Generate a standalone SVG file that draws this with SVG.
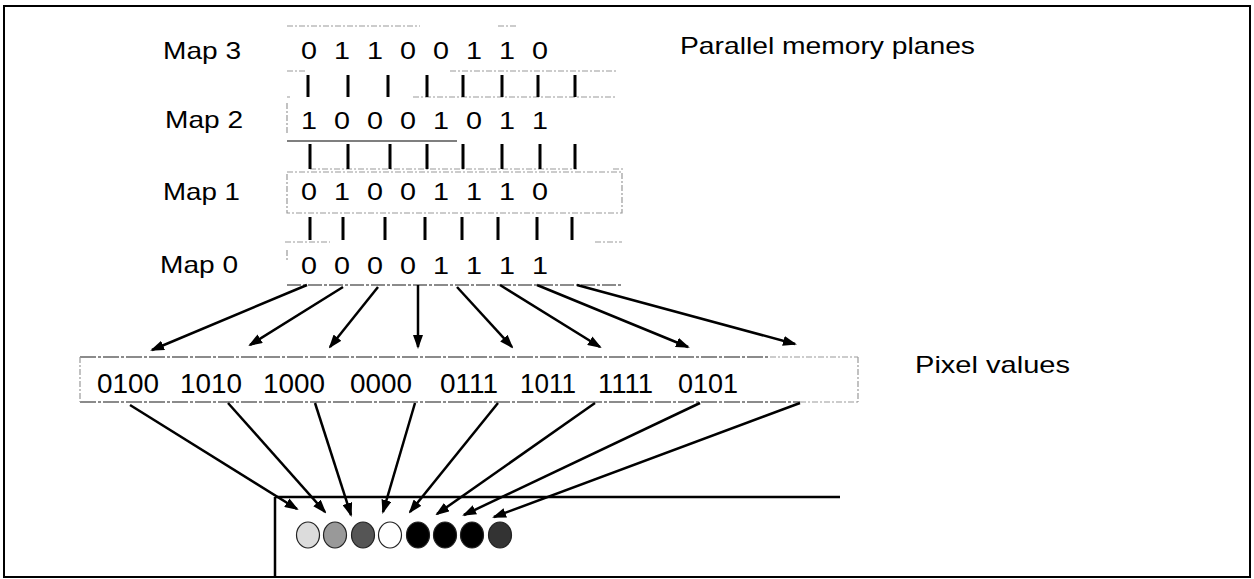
<svg xmlns="http://www.w3.org/2000/svg" width="1254" height="579" viewBox="0 0 1254 579">
<style>
.t{font-family:"Liberation Sans",Arial,sans-serif;font-size:24px;fill:#000}
.d text{font-family:"Liberation Sans",Arial,sans-serif;font-size:24px;fill:#000;text-anchor:middle}
.p{font-family:"Liberation Sans",Arial,sans-serif;font-size:27px;fill:#000}
.faint{stroke:#999;stroke-width:1.2;fill:none;stroke-dasharray:6 2 2 2}
.bar{stroke:#000;stroke-width:3}
.arr{stroke:#000;stroke-width:2.5;fill:none;marker-end:url(#ah)}
.dot{stroke:#222;stroke-width:1.2}
</style>
<defs>
<marker id="ah" markerWidth="14" markerHeight="10" refX="12" refY="5" orient="auto" markerUnits="userSpaceOnUse">
<path d="M0,0 L14,5 L0,10 Z" fill="#000"/>
</marker>
</defs>
<rect x="0" y="0" width="1254" height="579" fill="#fff"/>
<rect x="4" y="6" width="1246" height="571" fill="none" stroke="#000" stroke-width="2"/>

<g id="map3">
<path class="faint" d="M287,26 H420 M498,26 H517"/>
<text class="t" x="163" y="59" textLength="78" lengthAdjust="spacingAndGlyphs">Map 3</text>
<g class="d"><text x="309" y="59" textLength="16" lengthAdjust="spacingAndGlyphs">0</text><text x="342" y="59" textLength="16" lengthAdjust="spacingAndGlyphs">1</text><text x="375" y="59" textLength="16" lengthAdjust="spacingAndGlyphs">1</text><text x="408" y="59" textLength="16" lengthAdjust="spacingAndGlyphs">0</text><text x="441" y="59" textLength="16" lengthAdjust="spacingAndGlyphs">0</text><text x="474" y="59" textLength="16" lengthAdjust="spacingAndGlyphs">1</text><text x="507" y="59" textLength="16" lengthAdjust="spacingAndGlyphs">1</text><text x="540" y="59" textLength="16" lengthAdjust="spacingAndGlyphs">0</text></g>
</g>
<g id="bits32">
<path class="faint" d="M287,71 H307 M450,71 H617 M413,97 H617 M287,97 H290"/>
<path class="bar" d="M308,75 V97 M348,75 V97 M388,75 V97 M427,75 V97 M463,75 V97 M502,75 V97 M538,75 V97 M575,75 V97"/>
</g>
<g id="map2">
<path class="faint" d="M287,103 V135"/>
<text class="t" x="165" y="128" textLength="78" lengthAdjust="spacingAndGlyphs">Map 2</text>
<g class="d"><text x="309" y="129" textLength="16" lengthAdjust="spacingAndGlyphs">1</text><text x="342" y="129" textLength="16" lengthAdjust="spacingAndGlyphs">0</text><text x="375" y="129" textLength="16" lengthAdjust="spacingAndGlyphs">0</text><text x="408" y="129" textLength="16" lengthAdjust="spacingAndGlyphs">0</text><text x="441" y="129" textLength="16" lengthAdjust="spacingAndGlyphs">1</text><text x="474" y="129" textLength="16" lengthAdjust="spacingAndGlyphs">0</text><text x="507" y="129" textLength="16" lengthAdjust="spacingAndGlyphs">1</text><text x="540" y="129" textLength="16" lengthAdjust="spacingAndGlyphs">1</text></g>
<path d="M287,141 H457" stroke="#555" stroke-width="1.5"/>
</g>
<g id="bits21">
<path class="faint" d="M310,169 H577 M613,169 H623"/>
<path class="bar" d="M310,144 V169 M348,144 V169 M390,144 V169 M427,144 V169 M463,144 V169 M502,144 V169 M540,144 V169 M575,144 V169"/>
</g>
<g id="map1">
<rect class="faint" x="287" y="172" width="335" height="41"/>
<text class="t" x="163" y="200" textLength="77" lengthAdjust="spacingAndGlyphs">Map 1</text>
<g class="d"><text x="309" y="200" textLength="16" lengthAdjust="spacingAndGlyphs">0</text><text x="342" y="200" textLength="16" lengthAdjust="spacingAndGlyphs">1</text><text x="375" y="200" textLength="16" lengthAdjust="spacingAndGlyphs">0</text><text x="408" y="200" textLength="16" lengthAdjust="spacingAndGlyphs">0</text><text x="441" y="200" textLength="16" lengthAdjust="spacingAndGlyphs">1</text><text x="474" y="200" textLength="16" lengthAdjust="spacingAndGlyphs">1</text><text x="507" y="200" textLength="16" lengthAdjust="spacingAndGlyphs">1</text><text x="540" y="200" textLength="16" lengthAdjust="spacingAndGlyphs">0</text></g>
</g>
<g id="bits10">
<path class="faint" d="M285,242 H330 M595,242 H622"/>
<path class="bar" d="M310,217 V240 M343,217 V240 M385,217 V240 M425,217 V240 M462,217 V240 M498,217 V240 M537,217 V240 M572,217 V240"/>
</g>
<g id="map0">
<text class="t" x="160" y="273" textLength="78" lengthAdjust="spacingAndGlyphs">Map 0</text>
<g class="d"><text x="309" y="274" textLength="16" lengthAdjust="spacingAndGlyphs">0</text><text x="342" y="274" textLength="16" lengthAdjust="spacingAndGlyphs">0</text><text x="375" y="274" textLength="16" lengthAdjust="spacingAndGlyphs">0</text><text x="408" y="274" textLength="16" lengthAdjust="spacingAndGlyphs">0</text><text x="441" y="274" textLength="16" lengthAdjust="spacingAndGlyphs">1</text><text x="474" y="274" textLength="16" lengthAdjust="spacingAndGlyphs">1</text><text x="507" y="274" textLength="16" lengthAdjust="spacingAndGlyphs">1</text><text x="540" y="274" textLength="16" lengthAdjust="spacingAndGlyphs">1</text></g>
<path class="faint" d="M287,250 V262"/>
<path d="M287,285 H622" stroke="#666" stroke-width="1.5" stroke-dasharray="14 2 3 2"/>
</g>
<g id="title">
<text class="t" x="680" y="54" textLength="295" lengthAdjust="spacingAndGlyphs">Parallel memory planes</text>
</g>

<g id="pixels">
<path d="M80,357 H770 M80,402 H800" stroke="#666" stroke-width="1.5" stroke-dasharray="16 2 3 2"/>
<path class="faint" d="M770,357 H858 M800,402 H858 M80,357 V402 M858,357 V402"/>
<g class="p">
<text x="97" y="393" textLength="62" lengthAdjust="spacingAndGlyphs">0100</text>
<text x="180" y="393" textLength="62" lengthAdjust="spacingAndGlyphs">1010</text>
<text x="263" y="393" textLength="62" lengthAdjust="spacingAndGlyphs">1000</text>
<text x="350" y="393" textLength="62" lengthAdjust="spacingAndGlyphs">0000</text>
<text x="440" y="393" textLength="58" lengthAdjust="spacingAndGlyphs">0111</text>
<text x="520" y="393" textLength="56" lengthAdjust="spacingAndGlyphs">1011</text>
<text x="598" y="393" textLength="55" lengthAdjust="spacingAndGlyphs">1111</text>
<text x="678" y="393" textLength="60" lengthAdjust="spacingAndGlyphs">0101</text>
</g>
</g>
<g id="pixlabel">
<text class="t" x="915" y="373" textLength="155" lengthAdjust="spacingAndGlyphs">Pixel values</text>
</g>

<g id="screen">
<path d="M275,497 H840 M275,497 V577" stroke="#000" stroke-width="2.5" fill="none"/>
<ellipse class="dot" cx="308" cy="535" rx="11.5" ry="13" fill="#dcdcdc"/>
<ellipse class="dot" cx="335" cy="535" rx="11.5" ry="13" fill="#999"/>
<ellipse class="dot" cx="363" cy="535" rx="11.5" ry="13" fill="#555"/>
<ellipse class="dot" cx="390" cy="535" rx="11.5" ry="13" fill="#fff"/>
<ellipse class="dot" cx="418" cy="535" rx="11.5" ry="13" fill="#000"/>
<ellipse class="dot" cx="445" cy="535" rx="11.5" ry="13" fill="#000"/>
<ellipse class="dot" cx="472" cy="535" rx="11.5" ry="13" fill="#000"/>
<ellipse class="dot" cx="500" cy="535" rx="11.5" ry="13" fill="#333"/>
</g>

<g id="connectors">
<path class="arr" d="M307,285 L152,350"/>
<path class="arr" d="M343,287 L250,345"/>
<path class="arr" d="M378,287 L330,347"/>
<path class="arr" d="M418,285 L418,347"/>
<path class="arr" d="M457,287 L512,347"/>
<path class="arr" d="M500,285 L600,347"/>
<path class="arr" d="M537,285 L688,347"/>
<path class="arr" d="M577,285 L795,344"/>
<path class="arr" d="M130,405 L297,509"/>
<path class="arr" d="M228,403 L325,512"/>
<path class="arr" d="M315,403 L351,515"/>
<path class="arr" d="M415,403 L383,512"/>
<path class="arr" d="M498,403 L410,512"/>
<path class="arr" d="M595,403 L437,514"/>
<path class="arr" d="M700,403 L464,515"/>
<path class="arr" d="M800,403 L494,517"/>
</g>
</svg>
